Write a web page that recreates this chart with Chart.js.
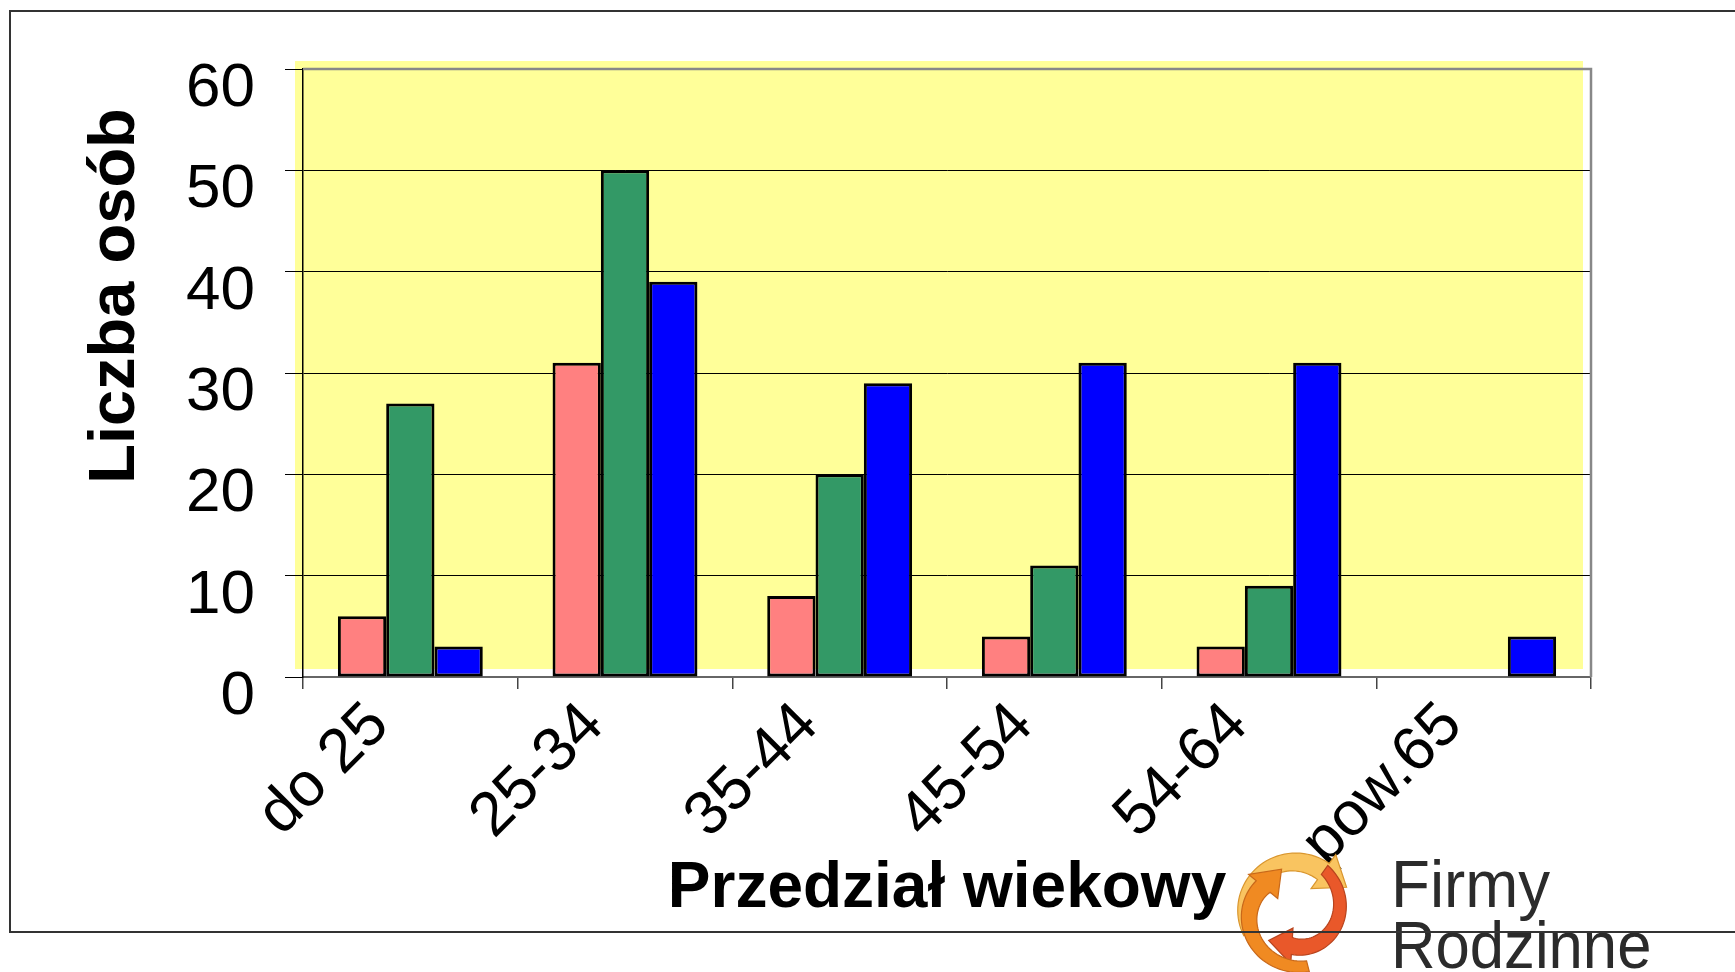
<!DOCTYPE html>
<html><head><meta charset="utf-8">
<script src="https://cdn.jsdelivr.net/npm/chart.js@4.4.1/dist/chart.umd.min.js"></script>
<style>html,body{margin:0;padding:0;background:#fff;overflow:hidden}canvas{display:block}</style>
</head><body>
<canvas id="c" width="1735" height="972"></canvas>
<script>
const categories = ['do 25', '25-34', '35-44', '45-54', '54-64', 'pow.65'];
const seriesPink = [6, 31, 8, 4, 3, 0];
const seriesGreen = [27, 50, 20, 11, 9, 0];
const seriesBlue = [3, 39, 29, 31, 31, 4];
const yTicks = [0, 10, 20, 30, 40, 50, 60];
const yTitle = 'Liczba osób';
const xTitle = 'Przedział wiekowy';
const logoLines = ['Firmy', 'Rodzinne'];

const FONT = 'Liberation Sans, Arial, sans-serif';

function spiralArrow(ctx, cx, cy, r0, r1, a0, a1, w0, w1, color, edge) {
  const n = 40;
  const pts = [];
  for (let i = 0; i <= n; i++) {
    const t = i / n;
    const a = a0 + (a1 - a0) * t;
    const r = r0 + (r1 - r0) * t;
    const w = w0 + (w1 - w0) * t;
    pts.push({x: cx + r * Math.cos(a), y: cy + r * Math.sin(a), a, w});
  }
  ctx.save();
  ctx.beginPath();
  pts.forEach((p, i) => {
    const x = p.x + Math.cos(p.a) * p.w / 2, y = p.y + Math.sin(p.a) * p.w / 2;
    if (i === 0) ctx.moveTo(x, y); else ctx.lineTo(x, y);
  });
  const P = pts[n], Q = pts[n - 1];
  let dx = P.x - Q.x, dy = P.y - Q.y;
  const L = Math.hypot(dx, dy); dx /= L; dy /= L;
  const nx = Math.cos(P.a), ny = Math.sin(P.a);
  const hw = P.w * 1.05, hl = P.w * 1.4;
  ctx.lineTo(P.x + nx * hw, P.y + ny * hw);
  ctx.lineTo(P.x + dx * hl, P.y + dy * hl);
  ctx.lineTo(P.x - nx * hw, P.y - ny * hw);
  for (let i = n; i >= 0; i--) {
    const p = pts[i];
    ctx.lineTo(p.x - Math.cos(p.a) * p.w / 2, p.y - Math.sin(p.a) * p.w / 2);
  }
  ctx.closePath();
  ctx.fillStyle = color;
  ctx.fill();
  ctx.strokeStyle = edge;
  ctx.lineWidth = 1.2;
  ctx.stroke();
  ctx.restore();
}

const decor = {
  id: 'decor',
  beforeDraw(chart) {
    const {ctx, chartArea: ca} = chart;
    ctx.save();
    ctx.fillStyle = '#ffffff';
    ctx.fillRect(0, 0, chart.width, chart.height);
    ctx.fillStyle = '#FFFF99';
    ctx.fillRect(ca.left - 8, ca.top - 8, ca.right - ca.left, ca.bottom - ca.top);
    ctx.restore();
  },
  afterDraw(chart) {
    const {ctx, chartArea: ca} = chart;
    ctx.save();
    ctx.strokeStyle = '#888888';
    ctx.lineWidth = 2.5;
    ctx.beginPath();
    ctx.moveTo(ca.left, ca.top);
    ctx.lineTo(ca.right, ca.top);
    ctx.lineTo(ca.right, ca.bottom);
    ctx.stroke();
    ctx.fillStyle = '#000';
    ctx.font = 'bold 65px ' + FONT;
    ctx.textAlign = 'center';
    ctx.textBaseline = 'middle';
    ctx.translate(116, 296);
    ctx.rotate(-Math.PI / 2);
    ctx.fillText(yTitle, 0, 0);
    ctx.restore();

    // logo
    const cx = 1294, cy = 912;
    spiralArrow(ctx, cx, cy, 50, 50, Math.PI * 0.86, Math.PI * 1.70, 11, 20, '#F9C460', '#D9962E');
    spiralArrow(ctx, cx, cy, 52, 34, -Math.PI * 0.30, Math.PI * 0.52, 11, 17, '#E9582A', '#B8441E');
    spiralArrow(ctx, cx, cy, 56, 40, Math.PI * 0.42, Math.PI * 1.22, 11, 18, '#F08A22', '#C8681A');

    ctx.save();
    ctx.fillStyle = '#2b2b2b';
    ctx.font = '67px ' + FONT;
    ctx.textAlign = 'left';
    ctx.textBaseline = 'alphabetic';
    ctx.save();
    ctx.translate(1391, 907);
    ctx.scale(0.95, 1);
    ctx.fillText(logoLines[0], 0, 0);
    ctx.restore();
    ctx.save();
    ctx.translate(1391, 968);
    ctx.scale(0.92, 1);
    ctx.fillText(logoLines[1], 0, 0);
    ctx.restore();
    ctx.restore();

    ctx.save();
    ctx.strokeStyle = '#333';
    ctx.lineWidth = 2;
    ctx.beginPath();
    ctx.moveTo(1735, 11);
    ctx.lineTo(10, 11);
    ctx.lineTo(10, 932);
    ctx.lineTo(1735, 932);
    ctx.stroke();
    ctx.restore();
  }
};

new Chart(document.getElementById('c').getContext('2d'), {
  type: 'bar',
  data: {
    labels: categories,
    datasets: [
      {data: seriesPink, backgroundColor: '#FF8080'},
      {data: seriesGreen, backgroundColor: '#339966'},
      {data: seriesBlue, backgroundColor: '#0000FF'}
    ]
  },
  options: {
    responsive: false,
    animation: false,
    devicePixelRatio: 1,
    layout: {padding: {top: 69, right: 144, left: 0, bottom: 0}},
    plugins: {legend: {display: false}, tooltip: {enabled: false}},
    datasets: {bar: {borderColor: '#000', borderWidth: 3, borderSkipped: false, categoryPercentage: 0.675, barPercentage: 1}},
    scales: {
      x: {
        grid: {offset: true, drawOnChartArea: false, tickLength: 12, color: '#444', lineWidth: 1.5},
        border: {color: '#666', width: 2},
        ticks: {font: {family: FONT, size: 62}, color: '#000', minRotation: 45, maxRotation: 45, padding: 0, labelOffset: -31},
        title: {display: true, text: xTitle, color: '#000', font: {family: FONT, size: 64, weight: 'bold'}, padding: {top: 0, bottom: 44}},
        afterFit(s) { s.height = 295; }
      },
      y: {
        min: 0, max: 60,
        afterBuildTicks(s) { s.ticks = yTicks.map(v => ({value: v})); },
        grid: {color: '#000', lineWidth: 1, tickLength: 18},
        border: {color: '#000', width: 1.5},
        ticks: {font: {family: FONT, size: 62}, color: '#000', padding: 30, labelOffset: 20},
        afterFit(s) { s.width = 303; }
      }
    }
  },
  plugins: [decor]
});
</script>
</body></html>
